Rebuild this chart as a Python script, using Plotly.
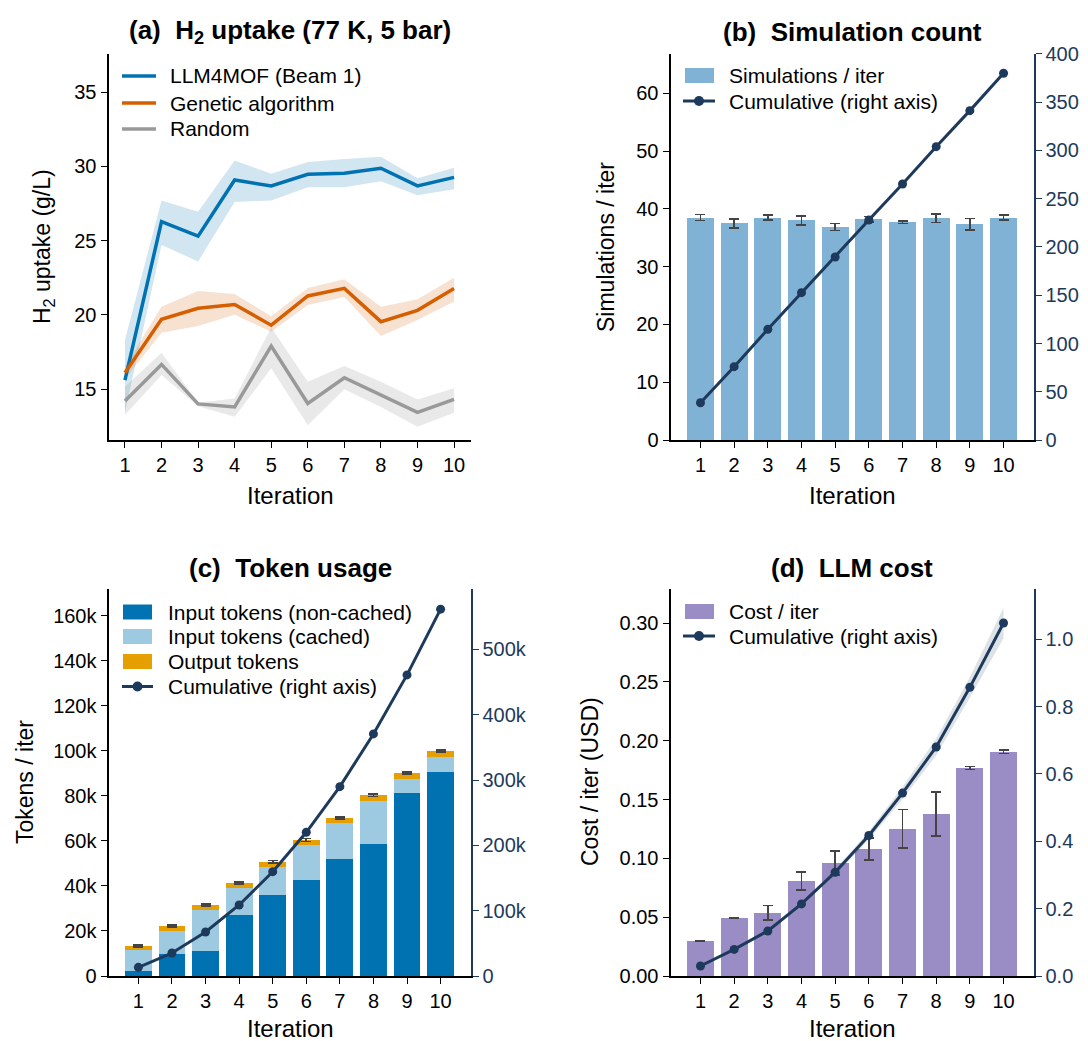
import plotly.graph_objects as go

W, H = 1088, 1041
FONT = "Liberation Sans, Arial, sans-serif"
NAVY = "#1d3a5c"

iters = [1, 2, 3, 4, 5, 6, 7, 8, 9, 10]

# (a) H2 uptake
llm_mean = [15.6, 26.27, 25.3, 29.08, 28.68, 29.47, 29.53, 29.87, 28.68, 29.26]
llm_hi = [18.3, 27.7, 26.95, 30.4, 29.5, 30.3, 30.5, 30.65, 29.2, 29.9]
llm_lo = [13.4, 24.7, 23.6, 27.6, 27.7, 28.6, 28.6, 29.0, 28.05, 28.45]
ga_mean = [16.1, 19.7, 20.44, 20.7, 19.3, 21.27, 21.78, 19.54, 20.3, 21.78]
ga_hi = [16.5, 20.55, 21.6, 21.4, 19.9, 21.8, 22.4, 20.55, 21.05, 22.5]
ga_lo = [15.7, 18.8, 19.24, 20.0, 18.86, 20.66, 21.2, 18.57, 19.65, 20.9]
rnd_mean = [14.2, 16.66, 14.0, 13.8, 17.9, 14.03, 15.76, 14.6, 13.43, 14.3]
rnd_hi = [15.15, 17.45, 14.08, 14.37, 19.15, 15.5, 16.55, 15.5, 14.3, 15.05]
rnd_lo = [13.25, 15.94, 13.85, 13.13, 16.4, 12.57, 14.98, 13.8, 12.46, 13.4]

# (b) Simulation count
sims = [38.5, 37.5, 38.5, 38.0, 36.85, 38.2, 37.7, 38.35, 37.37, 38.5]
sims_err = [0.5, 0.78, 0.46, 0.78, 0.6, 0.5, 0.23, 0.72, 1.0, 0.46]
sims_cum = [38.6, 76, 114.7, 152.7, 189.6, 228, 265.3, 304, 341.3, 380]

# (c) Token usage
tok_noncached = [2400, 9900, 11300, 27300, 36100, 42800, 52100, 58800, 81500, 90400]
tok_cached = [9300, 10200, 18200, 11900, 12500, 15400, 16000, 19100, 6100, 6900]
tok_output = [1600, 2100, 2100, 2100, 2100, 2200, 2100, 2400, 2600, 2700]
tok_err = [500, 500, 500, 500, 600, 600, 500, 600, 500, 500]
tok_cum = [13300, 35200, 67400, 108700, 159700, 220000, 289900, 370600, 461000, 561600]
tok_left_ticks = [0, 20000, 40000, 60000, 80000, 100000, 120000, 140000, 160000]
tok_left_text = ["0", "20k", "40k", "60k", "80k", "100k", "120k", "140k", "160k"]
tok_right_ticks = [0, 100000, 200000, 300000, 400000, 500000]
tok_right_text = ["0", "100k", "200k", "300k", "400k", "500k"]

# (d) LLM cost
cost = [0.0298, 0.0493, 0.0538, 0.0808, 0.0961, 0.108, 0.125, 0.1378, 0.1769, 0.1905]
cost_err = [0.0005, 0.0005, 0.006, 0.0077, 0.0103, 0.0092, 0.0164, 0.0186, 0.0013, 0.0015]
cost_cum = [0.0297, 0.079, 0.1337, 0.214, 0.308, 0.417, 0.543, 0.68, 0.857, 1.048]
cost_cum_band = [0.001, 0.002, 0.004, 0.006, 0.008, 0.012, 0.018, 0.025, 0.03, 0.045]

BLUE = "#0072b2"
ORANGE = "#d55e00"
GRAY = "#999999"
SIM_C = "#7fb2d5"
NONC_C = "#0072b2"
CACH_C = "#9ecae1"
OUT_C = "#e69f00"
COST_C = "#9a8cc4"
ERR_C = "#444444"


def px_x(v):
    return v / W


def px_y(v):
    return 1 - v / H


fig = go.Figure()

# ---- (a) ----
bands = [(llm_hi, llm_lo, "rgba(0,114,178,0.18)"),
         (ga_hi, ga_lo, "rgba(213,94,0,0.18)"),
         (rnd_hi, rnd_lo, "rgba(153,153,153,0.22)")]
for hi, lo, col in bands:
    fig.add_trace(go.Scatter(x=iters, y=hi, mode="lines", line=dict(width=0),
                             showlegend=False, hoverinfo="skip", xaxis="x", yaxis="y"))
    fig.add_trace(go.Scatter(x=iters, y=lo, mode="lines", line=dict(width=0),
                             fill="tonexty", fillcolor=col, showlegend=False,
                             hoverinfo="skip", xaxis="x", yaxis="y"))
for name, ys, col in [("LLM4MOF (Beam 1)", llm_mean, BLUE),
                      ("Genetic algorithm", ga_mean, ORANGE),
                      ("Random", rnd_mean, GRAY)]:
    fig.add_trace(go.Scatter(x=iters, y=ys, mode="lines", name=name,
                             line=dict(color=col, width=3.5), showlegend=False,
                             xaxis="x", yaxis="y"))

# ---- (b) ----
fig.add_trace(go.Bar(x=iters, y=sims, width=0.8, name="Simulations / iter",
                     marker=dict(color=SIM_C, line=dict(width=0)), showlegend=False,
                     error_y=dict(type="data", array=sims_err, color=ERR_C,
                                  thickness=1.6, width=5),
                     xaxis="x2", yaxis="y2"))
fig.add_trace(go.Scatter(x=iters, y=sims_cum, mode="lines+markers",
                         name="Cumulative (right axis)", showlegend=False,
                         line=dict(color=NAVY, width=3), marker=dict(size=9, color=NAVY),
                         xaxis="x2", yaxis="y5"))

# ---- (c) ----
fig.add_trace(go.Bar(x=iters, y=tok_noncached, width=0.8, name="Input tokens (non-cached)",
                     marker=dict(color=NONC_C, line=dict(width=0)), showlegend=False,
                     xaxis="x3", yaxis="y3"))
fig.add_trace(go.Bar(x=iters, y=tok_cached, width=0.8, name="Input tokens (cached)",
                     marker=dict(color=CACH_C, line=dict(width=0)), showlegend=False,
                     xaxis="x3", yaxis="y3"))
fig.add_trace(go.Bar(x=iters, y=tok_output, width=0.8, name="Output tokens",
                     marker=dict(color=OUT_C, line=dict(width=0)), showlegend=False,
                     error_y=dict(type="data", array=tok_err, color=ERR_C,
                                  thickness=1.6, width=5),
                     xaxis="x3", yaxis="y3"))
fig.add_trace(go.Scatter(x=iters, y=tok_cum, mode="lines+markers",
                         name="Cumulative (right axis)", showlegend=False,
                         line=dict(color=NAVY, width=3), marker=dict(size=9, color=NAVY),
                         xaxis="x3", yaxis="y6"))

# ---- (d) ----
fig.add_trace(go.Bar(x=iters, y=cost, width=0.8, name="Cost / iter",
                     marker=dict(color=COST_C, line=dict(width=0)), showlegend=False,
                     error_y=dict(type="data", array=cost_err, color=ERR_C,
                                  thickness=1.6, width=5),
                     xaxis="x4", yaxis="y4"))
cum_hi = [c + b for c, b in zip(cost_cum, cost_cum_band)]
cum_lo = [c - b for c, b in zip(cost_cum, cost_cum_band)]
fig.add_trace(go.Scatter(x=iters, y=cum_hi, mode="lines", line=dict(width=0),
                         showlegend=False, hoverinfo="skip", xaxis="x4", yaxis="y7"))
fig.add_trace(go.Scatter(x=iters, y=cum_lo, mode="lines", line=dict(width=0),
                         fill="tonexty", fillcolor="rgba(29,58,92,0.15)",
                         showlegend=False, hoverinfo="skip", xaxis="x4", yaxis="y7"))
fig.add_trace(go.Scatter(x=iters, y=cost_cum, mode="lines+markers",
                         name="Cumulative (right axis)", showlegend=False,
                         line=dict(color=NAVY, width=3), marker=dict(size=9, color=NAVY),
                         xaxis="x4", yaxis="y7"))

# ---- layout ----
TICKF = dict(family=FONT, size=20, color="#000000")
TICKN = dict(family=FONT, size=20, color=NAVY)

dom_x_left = [px_x(108.5), px_x(470.5)]
dom_x_right = [px_x(670.5), px_x(1033.5)]
dom_y_top = [px_y(440), px_y(53.5)]
dom_y_bot = [px_y(976), px_y(589)]


def xax(domain, anchor, rng):
    return dict(domain=domain, anchor=anchor, range=rng, tickmode="array",
                tickvals=iters, ticks="outside", ticklen=6, tickwidth=1.3,
                tickcolor="#000", showline=True, linecolor="#000", linewidth=2,
                showgrid=False, zeroline=False, tickfont=TICKF, automargin=False)


def yax(domain, anchor, rng, **kw):
    d = dict(domain=domain, anchor=anchor, range=rng, ticks="outside", ticklen=6,
             tickwidth=1.3, tickcolor="#000", showline=True, linecolor="#000",
             linewidth=2, showgrid=False, zeroline=False, tickfont=TICKF, automargin=False)
    d.update(kw)
    return d


def yax_r(overlay, anchor, rng, **kw):
    d = dict(overlaying=overlay, anchor=anchor, side="right", range=rng,
             ticks="outside", ticklen=6, tickwidth=1.3, tickcolor=NAVY,
             showline=True, linecolor=NAVY, linewidth=2, showgrid=False,
             zeroline=False, tickfont=TICKN, automargin=False)
    d.update(kw)
    return d


xr_line = [0.55, 10.45]
xr_bar = [0.11, 10.89]

fig.update_layout(
    width=W, height=H, autosize=False, showlegend=False,
    margin=dict(l=0, r=0, t=0, b=0, pad=0, autoexpand=False),
    paper_bgcolor="white", plot_bgcolor="white",
    font=dict(family=FONT, size=20, color="#000"),
    barmode="stack",
    xaxis=xax(dom_x_left, "y", xr_line),
    yaxis=yax(dom_y_top, "x", [11.57, 37.6], tickvals=[15, 20, 25, 30, 35]),
    xaxis2=xax(dom_x_right, "y2", xr_bar),
    yaxis2=yax(dom_y_top, "x2", [0, 66.9], tickvals=[0, 10, 20, 30, 40, 50, 60]),
    yaxis5=yax_r("y2", "x2", [0, 400.5], tickvals=[0, 50, 100, 150, 200, 250, 300, 350, 400]),
    xaxis3=xax(dom_x_left, "y3", xr_bar),
    yaxis3=yax(dom_y_bot, "x3", [0, 171900], tickvals=tok_left_ticks, ticktext=tok_left_text),
    yaxis6=yax_r("y3", "x3", [0, 592500], tickvals=tok_right_ticks, ticktext=tok_right_text),
    xaxis4=xax(dom_x_right, "y4", xr_bar),
    yaxis4=yax(dom_y_bot, "x4", [0, 0.329], tickvals=[0, 0.05, 0.10, 0.15, 0.20, 0.25, 0.30],
               tickformat=".2f"),
    yaxis7=yax_r("y4", "x4", [0, 1.149], tickvals=[0, 0.2, 0.4, 0.6, 0.8, 1.0], tickformat=".1f"),
)

# ---- legends (drawn as keys + labels in page pixels) ----
shapes = []
anns = []
LEGFONT = dict(family=FONT, size=21, color="#000")


def leg_text(text, x, y):
    anns.append(dict(text=text, x=px_x(x), y=px_y(y), xref="paper", yref="paper",
                     showarrow=False, xanchor="left", yanchor="middle", font=LEGFONT))


def leg_line(x0, x1, y, col, width, dot=False):
    shapes.append(dict(type="line", xref="paper", yref="paper", x0=px_x(x0), x1=px_x(x1),
                       y0=px_y(y), y1=px_y(y), line=dict(color=col, width=width)))
    if dot:
        cx = (x0 + x1) / 2
        shapes.append(dict(type="circle", xref="paper", yref="paper",
                           x0=px_x(cx - 5), x1=px_x(cx + 5), y0=px_y(y + 5), y1=px_y(y - 5),
                           fillcolor=col, line=dict(color=col, width=0)))


def leg_rect(x0, x1, y, col):
    shapes.append(dict(type="rect", xref="paper", yref="paper", x0=px_x(x0), x1=px_x(x1),
                       y0=px_y(y + 7.5), y1=px_y(y - 7.5), fillcolor=col,
                       line=dict(width=0)))


# (a)
for (lab, col), y in zip([("LLM4MOF (Beam 1)", BLUE), ("Genetic algorithm", ORANGE),
                          ("Random", GRAY)], [76, 103, 129]):
    leg_line(122, 156, y, col, 3.5)
    leg_text(lab, 168, y)
# (b)
leg_rect(685, 714, 75.5, SIM_C)
leg_text("Simulations / iter", 727, 75.5)
leg_line(683, 715, 101, NAVY, 3, dot=True)
leg_text("Cumulative (right axis)", 727, 101)
# (c)
for (lab, col), y in zip([("Input tokens (non-cached)", NONC_C),
                          ("Input tokens (cached)", CACH_C),
                          ("Output tokens", OUT_C)], [612, 636.5, 661.5]):
    leg_rect(123, 152, y, col)
    leg_text(lab, 166, y)
leg_line(122, 153, 686.5, NAVY, 3, dot=True)
leg_text("Cumulative (right axis)", 166, 686.5)
# (d)
leg_rect(685, 714, 611.5, COST_C)
leg_text("Cost / iter", 727, 611.5)
leg_line(683, 715, 636, NAVY, 3, dot=True)
leg_text("Cumulative (right axis)", 727, 636)

# ---- titles and axis labels ----
titles = [("<b>(a)\u00a0 H<sub>2</sub> uptake (77 K, 5 bar)</b>", 290, 32),
          ("<b>(b)\u00a0 Simulation count</b>", 852, 32),
          ("<b>(c)\u00a0 Token usage</b>", 290, 568),
          ("<b>(d)\u00a0 LLM cost</b>", 852, 568)]
for t, x, y in titles:
    anns.append(dict(text=t, x=px_x(x), y=px_y(y), xref="paper", yref="paper",
                     showarrow=False, xanchor="center", yanchor="middle",
                     font=dict(family=FONT, size=26, color="#000")))
for x in (290, 852):
    anns.append(dict(text="Iteration", x=px_x(x), y=px_y(495), xref="paper", yref="paper",
                     showarrow=False, xanchor="center", yanchor="middle",
                     font=dict(family=FONT, size=24, color="#000")))
    anns.append(dict(text="Iteration", x=px_x(x), y=0, xref="paper", yref="paper",
                     showarrow=False, xanchor="center", yanchor="bottom", yshift=-3,
                     font=dict(family=FONT, size=24, color="#000")))
for t, x, y in [("H<sub>2</sub> uptake (g/L)", 44, 247), ("Simulations / iter", 606, 247),
                ("Tokens / iter", 25, 782), ("Cost / iter (USD)", 590, 782)]:
    anns.append(dict(text=t, x=px_x(x), y=px_y(y), xref="paper", yref="paper",
                     showarrow=False, xanchor="center", yanchor="middle", textangle=-90,
                     font=dict(family=FONT, size=23, color="#000")))
fig.update_layout(annotations=anns, shapes=shapes)

fig.write_html("out.html", config={"displayModeBar": False},
               post_script="document.body.style.margin='0';document.body.style.overflow='hidden';")
